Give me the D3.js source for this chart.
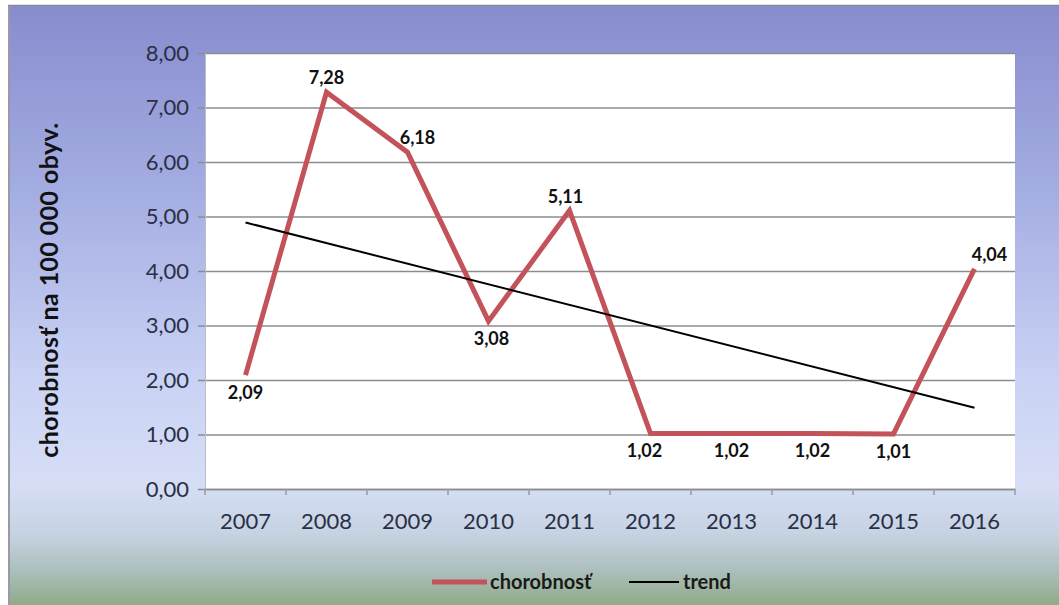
<!DOCTYPE html>
<html>
<head>
<meta charset="utf-8">
<script src="https://cdn.jsdelivr.net/npm/d3@7"></script>
<style>
  html, body { margin: 0; padding: 0; background: #fff; }
  svg { display: block; }
</style>
</head>
<body>
<div id="chart"></div>
<script>
// data
var years = ["2007", "2008", "2009", "2010", "2011", "2012", "2013", "2014", "2015", "2016"];
var chorobnost = [2.09, 7.28, 6.18, 3.08, 5.11, 1.02, 1.02, 1.02, 1.01, 4.04];
var trendYears = ["2007", "2016"];
var trendValues = [4.89, 1.49];
var yTicks = [0, 1, 2, 3, 4, 5, 6, 7, 8];
// where each data label sits relative to its point
var labelSide = ["below", "above", "above", "below", "above", "below", "below", "below", "below", "above"];
var labelShift = [0, 0, 10, 3, -4, -6, 0, 0, 0, 15];

function Chart() {
    var self = this;
    this.width = 1059;
    this.height = 605;
    this.margin = { top: 53, right: 44, bottom: 116, left: 205 };
    this.font = "Lato, 'Open Sans', sans-serif";
    this.svg = d3.select("#chart").append("svg")
        .attr("width", this.width).attr("height", this.height);

    var fmt = function (v) { return d3.format(".2f")(v).replace(".", ","); };

    this.background = function () {
        var defs = self.svg.append("defs");
        var g = defs.append("linearGradient").attr("id", "bg")
            .attr("x1", 0).attr("y1", 0).attr("x2", 0).attr("y2", 1);
        [[0, "#878cce"], [0.3, "#a3ace1"], [0.62, "#c9d2f4"], [0.8, "#d6def6"],
         [0.88, "#c6d3e2"], [0.94, "#adc0bf"], [1, "#90ab88"]].forEach(function (s) {
            g.append("stop").attr("offset", s[0]).attr("stop-color", s[1]);
        });
        self.svg.append("rect").attr("x", 8).attr("y", 5)
            .attr("width", self.width - 8).attr("height", self.height - 5)
            .attr("fill", "url(#bg)");
        self.svg.append("line").attr("x1", 9).attr("x2", 9).attr("y1", 5).attr("y2", self.height)
            .attr("stroke", "#9a9aa6").attr("stroke-width", 2);
        self.svg.append("line").attr("x1", 8).attr("x2", self.width).attr("y1", 5.5).attr("y2", 5.5)
            .attr("stroke", "#8a8a96").attr("stroke-width", 1.5);
    };

    this.plot = function () {
        var m = self.margin;
        var x = d3.scaleBand().domain(years).range([m.left, self.width - m.right]);
        var y = d3.scaleLinear().domain([0, 8]).range([self.height - m.bottom, m.top]);
        var cx = function (yr) { return x(yr) + x.bandwidth() / 2; };

        self.svg.append("rect")
            .attr("x", m.left).attr("y", m.top)
            .attr("width", self.width - m.left - m.right)
            .attr("height", self.height - m.top - m.bottom)
            .attr("fill", "#fff");

        // gridlines + y axis
        var yAxis = self.svg.append("g")
            .attr("transform", "translate(" + m.left + ",0)")
            .call(d3.axisLeft(y).tickValues(yTicks).tickFormat(fmt)
                .tickSize(-(self.width - m.left - m.right)).tickPadding(16));
        yAxis.select(".domain").remove();
        yAxis.selectAll(".tick line").attr("stroke", "#8c8c8c").attr("stroke-width", 1.5).attr("x1", -7);
        yAxis.selectAll(".tick text")
            .attr("font-family", self.font).attr("font-size", 22).attr("fill", "#2b2f45");
        self.svg.append("line")
            .attr("x1", m.left + 0.5).attr("x2", m.left + 0.5)
            .attr("y1", m.top).attr("y2", self.height - m.bottom)
            .attr("stroke", "#b9bccb").attr("stroke-width", 1);

        // x axis
        var xAxis = self.svg.append("g")
            .attr("transform", "translate(0," + (self.height - m.bottom) + ")")
            .call(d3.axisBottom(x).tickSize(0).tickPadding(24));
        xAxis.select(".domain").attr("stroke", "#8c8c8c").attr("stroke-width", 1.5);
        xAxis.selectAll(".tick text")
            .attr("font-family", self.font).attr("font-size", 22).attr("fill", "#2b2f45");
        xAxis.selectAll(".bound").data(years.concat(["end"])).enter().append("line")
            .attr("x1", function (d, i) { return m.left + i * x.step(); })
            .attr("x2", function (d, i) { return m.left + i * x.step(); })
            .attr("y1", 0).attr("y2", 6)
            .attr("stroke", "#9a9aa6").attr("stroke-width", 1.5);

        // y title
        self.svg.append("text")
            .attr("transform", "translate(58,290) rotate(-90)")
            .attr("text-anchor", "middle")
            .attr("font-family", self.font).attr("font-weight", "bold")
            .attr("font-size", 25).attr("letter-spacing", 0.4).attr("fill", "#111")
            .text("chorobnosť na 100 000 obyv.");

        // series line
        var line = d3.line()
            .x(function (d) { return cx(d.year); })
            .y(function (d) { return y(d.value); });
        var series = years.map(function (yr, i) { return { year: yr, value: chorobnost[i] }; });
        self.svg.append("path").datum(series)
            .attr("d", line).attr("fill", "none")
            .attr("stroke", "#c4525a").attr("stroke-width", 5)
            .attr("stroke-linejoin", "miter");

        // trend line
        var trend = trendYears.map(function (yr, i) { return { year: yr, value: trendValues[i] }; });
        self.svg.append("path").datum(trend)
            .attr("d", line).attr("fill", "none")
            .attr("stroke", "#000").attr("stroke-width", 2);

        // data labels
        self.svg.selectAll(".lbl").data(series).enter().append("text")
            .attr("x", function (d, i) { return cx(d.year) + labelShift[i]; })
            .attr("y", function (d, i) { return y(d.value) + (labelSide[i] === "above" ? -8 : 24); })
            .attr("text-anchor", "middle")
            .attr("font-family", self.font).attr("font-weight", "bold")
            .attr("font-size", 18).attr("fill", "#111")
            .text(function (d) { return fmt(d.value); });

        // legend
        var lg = self.svg.append("g").attr("transform", "translate(0,582)");
        lg.append("line").attr("x1", 432).attr("x2", 487).attr("y1", 0).attr("y2", 0)
            .attr("stroke", "#c4525a").attr("stroke-width", 5);
        lg.append("text").attr("x", 490).attr("y", 7)
            .attr("font-family", self.font).attr("font-weight", "bold")
            .attr("font-size", 20).attr("fill", "#1a1a1a").text("chorobnosť");
        lg.append("line").attr("x1", 629).attr("x2", 679).attr("y1", 0).attr("y2", 0)
            .attr("stroke", "#000").attr("stroke-width", 2);
        lg.append("text").attr("x", 683).attr("y", 7)
            .attr("font-family", self.font).attr("font-weight", "bold")
            .attr("font-size", 20).attr("fill", "#1a1a1a").text("trend");
    };

    this.background();
    this.plot();
}

document.addEventListener("DOMContentLoaded", function () {
    new Chart();
});
</script>
</body>
</html>
